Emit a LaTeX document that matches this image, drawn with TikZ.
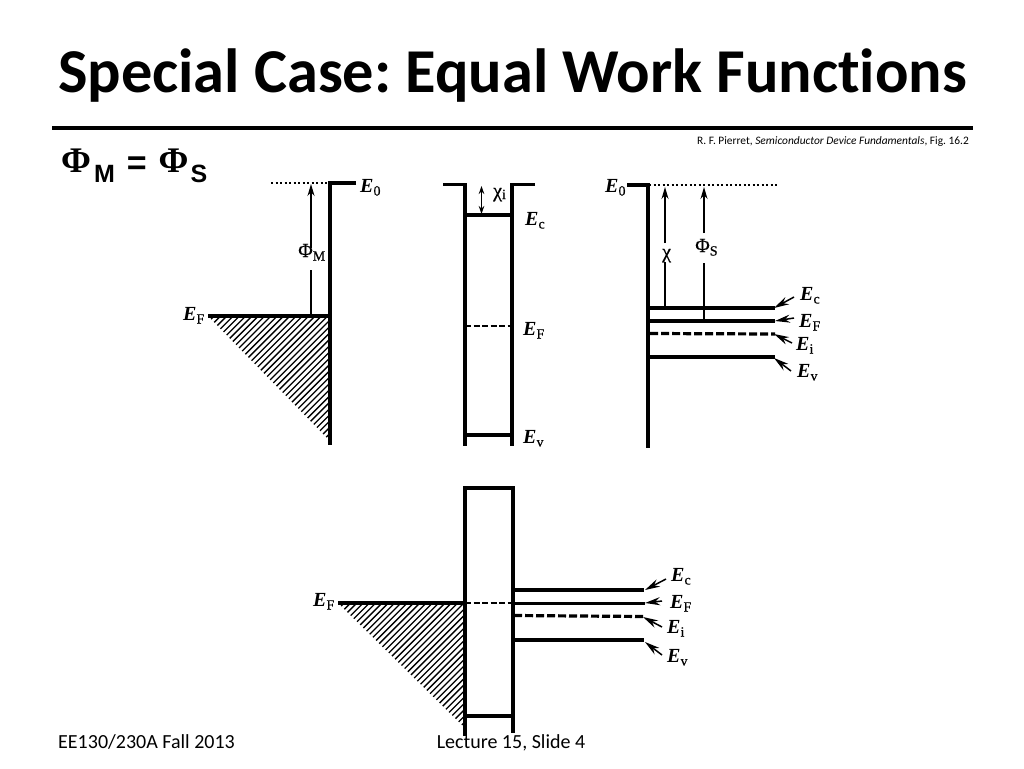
\documentclass[tikz,border=0pt]{standalone}
\usepackage{fontspec}
\setmainfont{Carlito}[Ligatures=NoCommon]
\newfontfamily\lserif{Liberation Serif}
\newfontfamily\lserifh{Liberation Serif}[FakeBold=0.5]
\newfontfamily\lsans{Liberation Sans}
\usetikzlibrary{arrows.meta}
\frenchspacing
\newcommand{\En}[1]{{\lserif\fontsize{20}{20}\selectfont\bfseries\itshape E}\raisebox{-3.5pt}{\lserifh\fontsize{14}{14}\selectfont #1}}
\newcommand{\Phisub}[1]{{\lserifh\fontsize{20}{20}\selectfont Φ}\raisebox{-3.5pt}{\lserifh\fontsize{14}{14}\selectfont #1}}
\tikzset{
  x=1pt,y=-1pt,
  wall/.style={line width=3.6pt},
  level/.style={line width=3.05pt},
  dashlevel/.style={line width=3.2pt,dash pattern=on 8pt off 3pt},
  thindash/.style={line width=2.4pt,dash pattern=on 6pt off 2.5pt},
  dots/.style={line width=1.2pt,dash pattern=on 2pt off 2.5pt},
  stem/.style={line width=1.4pt},
  uparrow/.style={line width=1.4pt,-{Stealth[length=12pt,width=7pt]}},
  pointer/.style={line width=1.5pt,-{Stealth[length=15pt,width=8pt]}},
  lab/.style={inner sep=0pt,anchor=base west},
  hatch/.style={line width=1.3pt},
}
\newcommand{\hatchtri}[3]{%
  \begin{scope}
    \clip (#1,#2) -- (#3,#2) -- (#3,#2+125) -- cycle;
    \foreach \k in {0,6.3,...,260}{\draw[hatch] (#1-130+\k,#2+130) -- (#1+\k,#2);}
  \end{scope}}
\begin{document}
\begin{tikzpicture}
\useasboundingbox[fill=white] (0,0) rectangle (1024,768);
% header
\node[inner sep=0pt,anchor=base] (title) at (512.5,92) {\fontsize{62.4}{62.4}\selectfont\bfseries Special Case: Equal Work Functions};
\draw[line width=4pt] (52,128) -- (973,128);
\node[inner sep=0pt,anchor=base east] (cite) at (969,144) {\fontsize{11.4}{11.4}\selectfont R. F. Pierret, \textit{Semiconductor Device Fundamentals}, Fig. 16.2};
\node[lab] (eqn) at (61,172) {{\fontsize{36}{36}\selectfont\lserif\bfseries Φ}\kern3pt\raisebox{-10pt}{\lsans\fontsize{25}{25}\selectfont\bfseries M}\kern12pt\raisebox{-2.5pt}{\lsans\fontsize{34}{34}\selectfont\bfseries =}\kern12pt{\fontsize{36}{36}\selectfont\lserif\bfseries Φ}\kern2pt\raisebox{-10pt}{\lsans\fontsize{25}{25}\selectfont\bfseries S}};
% footer
\node[lab] (foot1) at (58,748) {\fontsize{20}{20}\selectfont EE130/230A Fall 2013};
\node[inner sep=0pt,anchor=base] (foot2) at (511,748) {\fontsize{20}{20}\selectfont Lecture 15, Slide 4};

% metal
\hatchtri{208}{316}{330}
\draw[wall] (356,183) -- (330,183) -- (330,445);
\draw[dots] (271,183) -- (330,183);
\draw[level] (208,316) -- (330,316);
\node[lab] (mE0) at (360,192) {\En{0}};
\node[lab] (mEF) at (183,320) {\En{F}};
\node[lab] (mPhi) at (298,257) {\Phisub{M}};
\coordinate (mBase) at (311,316);
\coordinate (mTop) at (311,184);
\draw[stem] (mBase) -- (311,270);
\draw[uparrow] (311,248) -- (mTop);

% oxide
\draw[wall] (443,184.5) -- (465,184.5) -- (465,446);
\draw[wall] (535,184.5) -- (512,184.5) -- (512,446);
\draw[level] (465,215) -- (512,215);
\draw[thindash] (465,326) -- (512,326);
\draw[level] (465,435) -- (512,435);
\coordinate (chiA) at (481.5,186);
\coordinate (chiB) at (481.5,214);
\draw[stem,{Stealth[length=8pt,width=5.5pt]}-{Stealth[length=8pt,width=5.5pt]}] (chiA) -- (chiB);
\node[lab] (chii) at (493,197) {{\lserifh\fontsize{20}{20}\selectfont χ}\raisebox{-2pt}{\lserifh\fontsize{14}{14}\selectfont i}};
\node[lab] (oEc) at (525,225) {\En{c}};
\node[lab] (oEF) at (523,335) {\En{F}};
\node[lab] (oEv) at (523,443) {\En{v}};

% semiconductor
\draw[wall] (627,185) -- (648,185) -- (648,448);
\draw[dots] (649,185) -- (778,185);
\draw[level] (649,308) -- (775,308);
\draw[level] (649,321) -- (775,321);
\draw[dashlevel] (650,333.5) -- (775,334);
\draw[level] (649,357) -- (775,357);
\draw[stem] (665,308) -- (665,262);
\draw[uparrow] (665,243) -- (665,187);
\draw[stem] (704,321) -- (704,263);
\draw[uparrow] (704,233) -- (704,187);
\node[lab] (sE0) at (605,192) {\En{0}};
\node[lab] (schi) at (662,258) {{\lserifh\fontsize{20}{20}\selectfont χ}};
\node[lab] (sPhi) at (695,252) {\Phisub{S}};
\node[lab] (sEc) at (800,300) {\En{c}};
\node[lab] (sEF) at (799,327) {\En{F}};
\node[lab] (sEi) at (796,350) {\En{i}};
\node[lab] (sEv) at (797,377) {\En{v}};
\coordinate (sa1) at (794,297); \coordinate (sb1) at (774,308);
\coordinate (sa2) at (794,318); \coordinate (sb2) at (775,321);
\coordinate (sa3) at (792,343); \coordinate (sb3) at (774,334);
\coordinate (sa4) at (791,371); \coordinate (sb4) at (774,358);
\draw[pointer] (sa1) -- (sb1);
\draw[pointer] (sa2) -- (sb2);
\draw[pointer] (sa3) -- (sb3);
\draw[pointer] (sa4) -- (sb4);

% combined
\hatchtri{338}{603}{465}
\draw[wall] (465,736) -- (465,488) -- (513,488) -- (513,733);
\draw[level] (338,603) -- (465,603);
\draw[thindash] (465,603) -- (513,603);
\draw[level] (513,603.5) -- (645,603.5);
\draw[level] (513,590) -- (644,590);
\draw[dashlevel] (514,615.5) -- (644,616.5);
\draw[level] (513,640) -- (644,640);
\draw[level] (465,716) -- (513,716);
\node[lab] (bEFl) at (313,606) {\En{F}};
\node[lab] (bEc) at (671,581) {\En{c}};
\node[lab] (bEF) at (670,608) {\En{F}};
\node[lab] (bEi) at (667,633) {\En{i}};
\node[lab] (bEv) at (667,662) {\En{v}};
\coordinate (ba1) at (666,579); \coordinate (bb1) at (645,590);
\coordinate (ba2) at (662,601); \coordinate (bb2) at (645,603);
\coordinate (ba3) at (662,627); \coordinate (bb3) at (643,617);
\coordinate (ba4) at (662,655); \coordinate (bb4) at (645,642);
\draw[pointer] (ba1) -- (bb1);
\draw[pointer] (ba2) -- (bb2);
\draw[pointer] (ba3) -- (bb3);
\draw[pointer] (ba4) -- (bb4);
\end{tikzpicture}
\end{document}
